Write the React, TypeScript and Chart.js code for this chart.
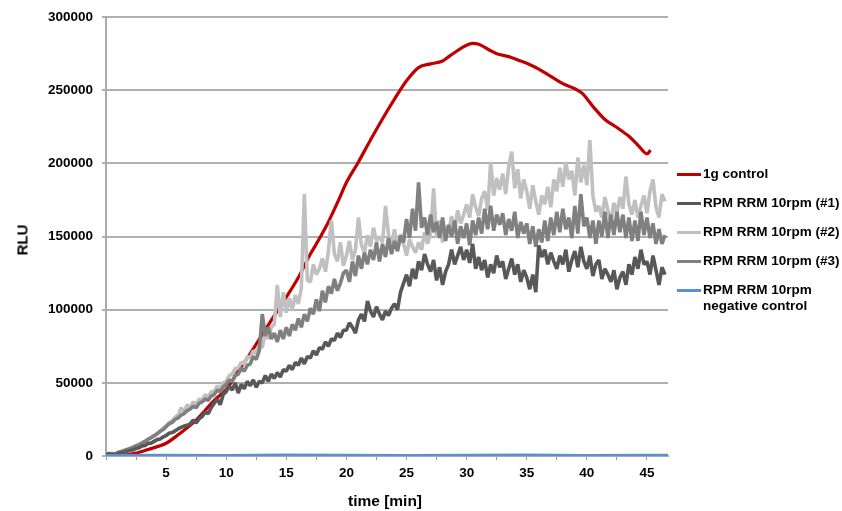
import React, { useEffect, useRef } from "react";
import { Chart, registerables } from "chart.js";
Chart.register(...registerables);

// sampling interval (minutes) of the three RPM series
const sampleStep = 0.25;

// 1g control (red)
const ctrlTimes = [0, 1.5, 2.5, 3.5, 5, 6, 7.5, 9, 10, 11, 12, 13, 14, 15, 16, 17, 17.5, 18.5, 19.3, 20, 21, 22, 23.4, 24, 25, 26, 27, 28, 28.6, 29.5, 30.5, 31, 32, 32.5, 33.5, 34.5, 35, 36, 37, 38, 39, 39.6, 40.5, 41.5, 42.5, 43.5, 44.3, 45, 45.3];
const ctrlValues = [0, 500, 2000, 4500, 8700, 14500, 24500, 38000, 45500, 58000, 70000, 83000, 96000, 108600, 122000, 138000, 145000, 160000, 174000, 187000, 201000, 216000, 236000, 244000, 256500, 265500, 268000, 270000, 273500, 278500, 282000, 281500, 277000, 275000, 273000, 270000, 268500, 264500, 259500, 254500, 251000, 248000, 239000, 230000, 224500, 218500, 212000, 206500, 209000];

// RPM RRM 10rpm (#1) – dark gray
const rpm1 = [
  1000, 1500, 800, 1200,
  1500, 2200, 2600, 3200,
  3800, 4200, 5200, 5600,
  6800, 7200, 8500, 8800,
  10000, 11200, 11600, 13000,
  14000, 15500, 16000, 17200,
  18500, 19500, 20500, 21000,
  22000, 24500, 22500, 25500,
  27000, 30000, 29000, 33000,
  36000, 39000, 35000, 42000,
  44000, 48000, 45000, 50000,
  43000, 49000, 46000, 51000,
  48000, 52000, 47000, 51000,
  50000, 55000, 51000, 56000,
  53000, 57000, 54000, 59000,
  58000, 62000, 59000, 64000,
  62000, 67000, 63000, 68000,
  67000, 72000, 69000, 74000,
  73000, 78000, 75000, 80000,
  79000, 84000, 81000, 86000,
  86000, 91000, 88000, 84000,
  93000, 97000, 92000, 106000,
  99000, 95000, 102000, 97000,
  93000, 99000, 96000, 101000,
  104000, 100000, 112000, 118000,
  124000, 116000, 128000, 121000,
  133000, 127000, 138000, 131000,
  126000, 134000, 120000, 129000,
  117000, 126000, 131000, 141000,
  131000, 137000, 143000, 134000,
  141000, 132000, 145000, 128000,
  136000, 127000, 134000, 122000,
  131000, 125000, 137000, 129000,
  133000, 121000, 128000, 135000,
  124000, 131000, 119000, 127000,
  122000, 114000, 124000, 112000,
  144000, 136000, 141000, 131000,
  139000, 133000, 128000, 137000,
  131000, 141000, 126000, 134000,
  140000, 129000, 143000, 133000,
  128000, 137000, 123000, 131000,
  134000, 121000, 128000, 124000,
  119000, 127000, 114000, 122000,
  126000, 117000, 131000, 124000,
  136000, 128000, 141000, 131000,
  133000, 124000, 137000, 127000,
  117000, 129000, 124000,
];

// RPM RRM 10rpm (#2) – light gray
const rpm2 = [
  1200, 2000, 1000, 1500,
  2000, 2800, 3500, 4200,
  5000, 6000, 6800, 7800,
  8800, 10000, 11000, 12500,
  13500, 15500, 16500, 19000,
  20500, 23000, 24000, 26500,
  28000, 33000, 30000, 35000,
  33000, 37000, 35000, 39000,
  38000, 42000, 40000, 44000,
  44000, 48000, 46000, 50000,
  51000, 55000, 56000, 60000,
  60000, 64000, 63000, 68000,
  67000, 72000, 70000, 76000,
  74000, 84000, 80000, 88000,
  90000, 117000, 95000, 112000,
  98000, 108000, 100000, 110000,
  104000, 115000, 179000, 120000,
  119000, 131000, 124000, 128000,
  135000, 126000, 140000, 161000,
  138000, 133000, 146000, 130000,
  137000, 147000, 134000, 141000,
  163000, 144000, 139000, 151000,
  143000, 156000, 147000, 150000,
  146000, 171000, 151000, 144000,
  155000, 141000, 149000, 145000,
  137000, 148000, 143000, 139000,
  146000, 141000, 153000, 145000,
  152000, 183000, 149000, 161000,
  146000, 157000, 153000, 164000,
  154000, 168000, 159000, 165000,
  172000, 163000, 179000, 170000,
  164000, 176000, 181000, 168000,
  201000, 178000, 190000, 182000,
  193000, 179000, 198000, 208000,
  183000, 196000, 176000, 189000,
  181000, 169000, 185000, 174000,
  165000, 178000, 172000, 184000,
  170000, 189000, 181000, 197000,
  184000, 201000, 189000, 195000,
  178000, 204000, 187000, 199000,
  185000, 216000, 178000, 167000,
  171000, 163000, 177000, 168000,
  160000, 173000, 166000, 177000,
  169000, 191000, 172000, 165000,
  175000, 163000, 171000, 178000,
  166000, 181000, 189000, 170000,
  163000, 179000, 174000,
];

// RPM RRM 10rpm (#3) – mid gray
const rpm3 = [
  1500, 800, 1800, 1200,
  2500, 3000, 3800, 4500,
  5200, 6000, 7000, 7800,
  9000, 10000, 11500, 12500,
  14000, 15000, 17000, 18000,
  20000, 22000, 23000, 25000,
  26000, 28000, 29000, 31000,
  32000, 34000, 33000, 36000,
  37000, 39000, 38000, 41000,
  42000, 45000, 44000, 47000,
  49000, 52000, 51000, 55000,
  56000, 60000, 58000, 62000,
  63000, 68000, 66000, 72000,
  97000, 82000, 88000, 80000,
  84000, 78000, 86000, 80000,
  88000, 82000, 90000, 86000,
  94000, 88000, 97000, 92000,
  101000, 97000, 107000, 99000,
  113000, 105000, 116000, 111000,
  121000, 113000, 118000, 125000,
  127000, 119000, 133000, 123000,
  137000, 128000, 139000, 131000,
  141000, 134000, 146000, 133000,
  145000, 136000, 149000, 138000,
  147000, 140000, 151000, 146000,
  162000, 149000, 169000, 154000,
  187000, 156000, 163000, 151000,
  165000, 153000, 160000, 149000,
  163000, 147000, 158000, 150000,
  161000, 145000, 157000, 149000,
  159000, 144000, 161000, 151000,
  163000, 152000, 169000, 155000,
  171000, 154000, 165000, 158000,
  166000, 151000, 162000, 154000,
  167000, 149000, 160000, 152000,
  159000, 145000, 157000, 143000,
  155000, 146000, 161000, 147000,
  163000, 151000, 167000, 153000,
  169000, 155000, 163000, 149000,
  171000, 152000, 179000, 157000,
  163000, 149000, 161000, 145000,
  161000, 150000, 167000, 149000,
  165000, 151000, 167000, 153000,
  165000, 149000, 163000, 147000,
  161000, 147000, 167000, 151000,
  163000, 149000, 159000, 145000,
  155000, 145000, 151000,
];

// RPM RRM 10rpm negative control (blue)
const negTimes = [0, 5, 10, 15, 20, 25, 30, 35, 40, 45, 46.75];
const negValues = [400, 500, 400, 600, 500, 400, 500, 600, 400, 500, 500];

const seriesNames = [
  "1g control",
  "RPM RRM 10rpm (#1)",
  "RPM RRM 10rpm (#2)",
  "RPM RRM 10rpm (#3)",
  "RPM RRM 10rpm\nnegative control",
];
const seriesColors = ["#c00000", "#585858", "#c0c0c0", "#808080", "#5b8fd8"];

const xTicksStep = 2.5;
const xMax = 46.75;
const yMax = 300000;
const yStep = 50000;

const FONT = "'Liberation Sans', Arial, Helvetica, sans-serif";

export default function App() {
  const ref = useRef<HTMLCanvasElement>(null);

  useEffect(() => {
    document.body.style.margin = "0";
    const canvas = ref.current!;
    const sampled = (arr: number[]) => arr.map((v, i) => ({ x: i * sampleStep, y: v }));
    const paired = (xs: number[], ys: number[]) => xs.map((x, i) => ({ x, y: ys[i] }));
    const grayLine = { pointRadius: 0, tension: 0, borderWidth: 3.6, borderJoinStyle: "bevel" };

    const chart = new Chart(canvas, {
      type: "line",
      data: {
        datasets: [
          {
            label: seriesNames[0],
            data: paired(ctrlTimes, ctrlValues),
            borderColor: seriesColors[0],
            borderWidth: 3.2,
            pointRadius: 0,
            tension: 0.4,
            cubicInterpolationMode: "monotone",
            order: 5,
          },
          { label: seriesNames[1], data: sampled(rpm1), borderColor: seriesColors[1], ...grayLine, order: 2 },
          { label: seriesNames[2], data: sampled(rpm2), borderColor: seriesColors[2], ...grayLine, order: 4 },
          { label: seriesNames[3], data: sampled(rpm3), borderColor: seriesColors[3], ...grayLine, order: 3 },
          {
            label: seriesNames[4],
            data: paired(negTimes, negValues),
            borderColor: seriesColors[4],
            borderWidth: 3,
            pointRadius: 0,
            tension: 0,
            order: 1,
          },
        ],
      },
      options: {
        animation: false,
        responsive: false,
        maintainAspectRatio: false,
        layout: { padding: { left: 0, right: 174, top: 17, bottom: 0 } },
        plugins: { legend: { display: false }, tooltip: { enabled: false } },
        scales: {
          x: {
            type: "linear",
            min: 0,
            max: xMax,
            afterBuildTicks: (s: any) => {
              s.ticks = s.ticks.filter(
                (t: any) => Math.abs(t.value / xTicksStep - Math.round(t.value / xTicksStep)) < 1e-6
              );
            },
            afterFit: (s: any) => {
              s.height = 55;
            },
            ticks: {
              stepSize: xTicksStep,
              includeBounds: false,
              autoSkip: false,
              maxRotation: 0,
              padding: 5,
              color: "#000",
              font: { family: FONT, size: 13.5, weight: "bold" },
              callback: (v: any) => {
                const n = Math.round(Number(v) * 1000) / 1000;
                return n > 0 && Math.abs(n / 5 - Math.round(n / 5)) < 1e-6 ? String(Math.round(n)) : "";
              },
            },
            grid: { drawOnChartArea: false, tickLength: 4, color: "#9a9a9a", lineWidth: 1 },
            border: { color: "#aaaaaa", width: 2 },
          },
          y: {
            min: 0,
            max: yMax,
            afterFit: (s: any) => {
              s.width = 106;
            },
            ticks: {
              stepSize: yStep,
              padding: 9,
              color: "#000",
              font: { family: FONT, size: 13.5, weight: "bold" },
              callback: (v: any) => String(Math.round(Number(v))),
            },
            grid: { color: "#b0b0b0", lineWidth: 2, tickLength: 4 },
            border: { color: "#aaaaaa", width: 2 },
          },
        },
      },
    } as any);
    return () => chart.destroy();
  }, []);

  const legendRows = [174, 203, 232, 261, 290];

  return (
    <div style={{ position: "relative", width: 842, height: 511, fontFamily: FONT, overflow: "hidden" }}>
      <canvas ref={ref} width={842} height={511} style={{ position: "absolute", left: 0, top: 0 }} />
      <div
        style={{
          position: "absolute",
          left: 22,
          top: 240,
          transform: "translate(-50%, -50%) rotate(-90deg)",
          fontWeight: "bold",
          fontSize: 15,
          whiteSpace: "nowrap",
        }}
      >
        RLU
      </div>
      <div
        style={{
          position: "absolute",
          left: 385,
          top: 501,
          transform: "translate(-50%, -50%)",
          fontWeight: "bold",
          fontSize: 15.5,
          whiteSpace: "nowrap",
        }}
      >
        time [min]
      </div>
      {seriesNames.map((name, i) => (
        <div key={i}>
          <div
            style={{
              position: "absolute",
              left: 677,
              top: legendRows[i] - 1.5,
              width: 24,
              height: 3,
              background: seriesColors[i],
            }}
          />
          <div
            style={{
              position: "absolute",
              left: 703,
              top: legendRows[i] - 8,
              fontWeight: "bold",
              fontSize: 13.5,
              lineHeight: "15.5px",
              whiteSpace: "pre",
            }}
          >
            {name}
          </div>
        </div>
      ))}
    </div>
  );
}
